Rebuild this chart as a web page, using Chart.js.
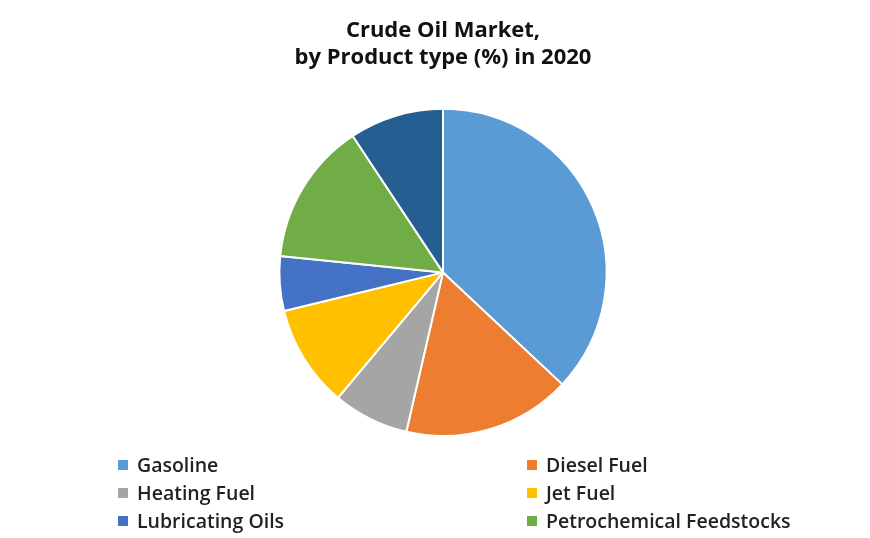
<!DOCTYPE html>
<html><head><meta charset="utf-8">
<script src="https://cdn.jsdelivr.net/npm/chart.js@4/dist/chart.umd.min.js"></script>
<style>
body{margin:0;background:#fff;}
#wrap{position:relative;width:870px;height:538px;}
#legend{position:absolute;left:0;top:0;width:870px;height:538px;pointer-events:none;font-family:"Open Sans",sans-serif;font-weight:600;font-size:19.5px;color:#222;}
.li{position:absolute;display:flex;align-items:center;white-space:nowrap;}
.sw{width:10px;height:10px;margin-right:9px;}
</style></head><body>
<div id="wrap"><canvas id="c" width="870" height="538"></canvas><div id="legend"></div></div>
<script>
const labels = ['Gasoline','Diesel Fuel','Heating Fuel','Jet Fuel','Lubricating Oils','Petrochemical Feedstocks','Others'];
const values = [37.0, 16.6, 7.5, 10.1, 5.4, 14.1, 9.3];
const colors = ['#5b9bd5','#ed7d31','#a5a5a5','#ffc000','#4472c4','#70ad47','#255e91'];
const legendLabels = labels.slice(0, 6);

new Chart(document.getElementById('c'), {
  type: 'pie',
  data: { labels: labels, datasets: [{ data: values, backgroundColor: colors, borderColor: '#fff', borderWidth: 2 }] },
  options: {
    responsive: false, animation: false,
    layout: { padding: { left: 16, bottom: 101 } },
    plugins: {
      legend: { display: false },
      tooltip: { enabled: false },
      title: { display: true, text: ['Crude Oil Market,', 'by Product type (%) in 2020'],
        font: { family: 'Open Sans', size: 22, weight: 'bold' }, color: '#111',
        lineHeight: 1.45, padding: { top: 18, bottom: 37 } }
    }
  }
});

const pos = [[118,465],[527,465],[118,493],[527,493],[118,521],[527,521]];
const lg = document.getElementById('legend');
legendLabels.forEach((l, i) => {
  const d = document.createElement('div');
  d.className = 'li';
  d.style.left = pos[i][0] + 'px';
  d.style.top = (pos[i][1] - 14) + 'px';
  d.innerHTML = '<span class="sw" style="background:' + colors[i] + '"></span>' + l;
  lg.appendChild(d);
});
</script></body></html>
